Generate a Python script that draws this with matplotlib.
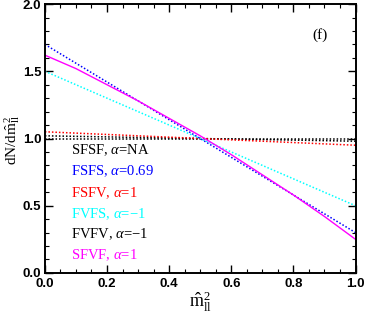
import matplotlib
matplotlib.use("Agg")
import matplotlib.pyplot as plt
from matplotlib.ticker import MultipleLocator

x = [0.0, 0.1, 0.2, 0.3, 0.4, 0.5, 0.6, 0.7, 0.8, 0.9, 1.0]
sfsf = [1.00, 1.00, 1.00, 1.00, 1.00, 1.00, 1.00, 1.00, 1.00, 1.00, 1.00]
fsfs = [1.70, 1.56, 1.42, 1.28, 1.14, 1.00, 0.86, 0.72, 0.58, 0.44, 0.30]
fsfv = [1.05, 1.04, 1.03, 1.02, 1.01, 1.00, 0.99, 0.98, 0.97, 0.96, 0.95]
fvfs = [1.50, 1.40, 1.30, 1.20, 1.10, 1.00, 0.90, 0.80, 0.70, 0.60, 0.50]
fvfv = [1.02, 1.016, 1.012, 1.008, 1.004, 1.00, 0.996, 0.992, 0.988, 0.984, 0.98]
sfvf = [1.62, 1.52, 1.40, 1.28, 1.15, 1.02, 0.88, 0.73, 0.58, 0.42, 0.25]

labels = ["SFSF, $\\alpha$=NA", "FSFS, $\\alpha$=0.69", "FSFV, $\\alpha$=1",
          "FVFS, $\\alpha$=$-$1", "FVFV, $\\alpha$=$-$1", "SFVF, $\\alpha$=1"]
colors = ["black", "#0000ff", "#ff0000", "#00ffff", "black", "#ff00ff"]

plt.rcParams['mathtext.fontset'] = 'custom'
plt.rcParams['mathtext.rm'] = 'Liberation Serif'
plt.rcParams['mathtext.it'] = 'Liberation Serif:italic'

fig = plt.figure(figsize=(3.65, 3.13), dpi=100)
ax = fig.add_axes([0.123, 0.128, 0.851, 0.859])

dot = (0, (1, 1.3))
ax.plot(x, sfsf, color=colors[0], ls=dot, lw=1.1)
ax.plot(x, fvfv, color=colors[4], ls=dot, lw=1.1)
ax.plot(x, fsfv, color=colors[2], ls=dot, lw=1.1)
ax.plot(x, fvfs, color=colors[3], ls=dot, lw=1.1)
ax.plot(x, fsfs, color=colors[1], ls=dot, lw=1.1)
ax.plot(x, sfvf, color=colors[5], ls='-', lw=1.0)

ax.set_xlim(0, 1)
ax.set_ylim(0, 2)
ax.xaxis.set_major_locator(MultipleLocator(0.2))
ax.xaxis.set_minor_locator(MultipleLocator(0.05))
ax.yaxis.set_major_locator(MultipleLocator(0.5))
ax.yaxis.set_minor_locator(MultipleLocator(0.1))
ax.tick_params(which='both', direction='in', top=True, right=True)
ax.tick_params(which='major', length=6, width=1.0, labelsize=9.5)
ax.tick_params(axis='y', which='major', pad=2.5)
ax.tick_params(which='minor', length=3, width=0.8)
for lab in ax.get_xticklabels() + ax.get_yticklabels():
    lab.set_fontweight('bold')
    lab.set_family('Liberation Sans')
for s in ax.spines.values():
    s.set_linewidth(1.4)

ypos = [0.91, 0.755, 0.59, 0.44, 0.29, 0.135]
for lab, c, yp in zip(labels, colors, ypos):
    ax.text(0.084, yp, lab, color=c, fontsize=10.5, family='Liberation Serif',
            va='center', ha='left')

ax.text(0.887, 1.77, "(f)", fontsize=11, family='Liberation Serif', ha='center', va='center')

ax.set_xlabel(r'$\hat{\mathrm{m}}^2_{\mathrm{ll}}$', fontsize=13)
ax.set_ylabel(r'$\mathrm{dN/d}\hat{\mathrm{m}}^2_{\mathrm{ll}}$', fontsize=11)
ax.xaxis.set_label_coords(0.5, -0.062, transform=ax.transAxes)
ax.yaxis.set_label_coords(-0.074, 0.494, transform=ax.transAxes)
ax.xaxis.label.set_va('top')
ax.yaxis.label.set_va('bottom')

fig.savefig("out.png", dpi=100)
